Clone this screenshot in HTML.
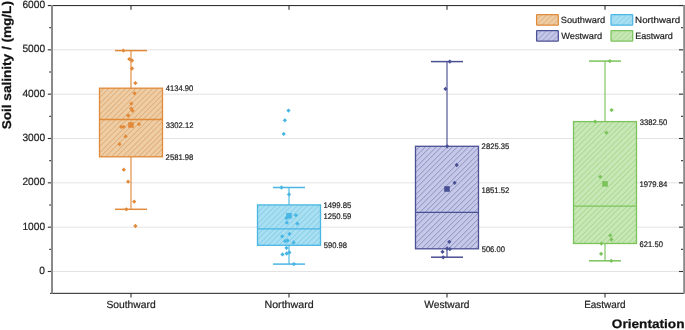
<!DOCTYPE html><html><head><meta charset="utf-8"><style>html,body{margin:0;padding:0;background:#fff;width:685px;height:330px;overflow:hidden}svg{display:block;will-change:transform}text{font-family:"Liberation Sans",sans-serif;text-rendering:geometricPrecision}</style></head><body>
<svg width="685" height="330" viewBox="0 0 685 330">
<defs>
<pattern id="lS" patternUnits="userSpaceOnUse" width="5.43" height="5.43" x="536.6" y="14.7"><rect width="5.43" height="5.43" fill="#EDCDA6"/><path d="M0.47,-1 L-6.96,6.43 M5.90,-1 L-1.53,6.43 M11.33,-1 L3.90,6.43 M16.76,-1 L9.33,6.43 " stroke="#E0A466" stroke-width="0.85"/></pattern>
<pattern id="lN" patternUnits="userSpaceOnUse" width="5.43" height="5.43" x="611.0" y="14.7"><rect width="5.43" height="5.43" fill="#A9DFF1"/><path d="M0.47,-1 L-6.96,6.43 M5.90,-1 L-1.53,6.43 M11.33,-1 L3.90,6.43 M16.76,-1 L9.33,6.43 " stroke="#7ACBEA" stroke-width="0.85"/></pattern>
<pattern id="lW" patternUnits="userSpaceOnUse" width="5.43" height="5.43" x="536.6" y="30.5"><rect width="5.43" height="5.43" fill="#C6C8E9"/><path d="M0.47,-1 L-6.96,6.43 M5.90,-1 L-1.53,6.43 M11.33,-1 L3.90,6.43 M16.76,-1 L9.33,6.43 " stroke="#898DBB" stroke-width="0.85"/></pattern>
<pattern id="lE" patternUnits="userSpaceOnUse" width="5.43" height="5.43" x="611.0" y="30.5"><rect width="5.43" height="5.43" fill="#C7E7B6"/><path d="M0.47,-1 L-6.96,6.43 M5.90,-1 L-1.53,6.43 M11.33,-1 L3.90,6.43 M16.76,-1 L9.33,6.43 " stroke="#9FD586" stroke-width="0.85"/></pattern>
</defs>
<rect width="685" height="330" fill="#fff"/>
<line x1="53" x2="683" y1="271.50" y2="271.50" stroke="#E3E3E3" stroke-width="1"/>
<line x1="53" x2="683" y1="227.17" y2="227.17" stroke="#E3E3E3" stroke-width="1"/>
<line x1="53" x2="683" y1="182.83" y2="182.83" stroke="#E3E3E3" stroke-width="1"/>
<line x1="53" x2="683" y1="138.50" y2="138.50" stroke="#E3E3E3" stroke-width="1"/>
<line x1="53" x2="683" y1="94.17" y2="94.17" stroke="#E3E3E3" stroke-width="1"/>
<line x1="53" x2="683" y1="49.83" y2="49.83" stroke="#E3E3E3" stroke-width="1"/>
<line x1="131" x2="131" y1="50.6" y2="88.2" stroke="#E08A3A" stroke-width="1.3" opacity="0.88"/>
<line x1="131" x2="131" y1="156.8" y2="209.3" stroke="#E08A3A" stroke-width="1.3" opacity="0.88"/>
<line x1="115.0" x2="147.0" y1="50.6" y2="50.6" stroke="#E08A3A" stroke-width="1.5"/>
<line x1="115.0" x2="147.0" y1="209.3" y2="209.3" stroke="#E08A3A" stroke-width="1.5"/>
<clipPath id="cS"><rect x="99.5" y="88.2" width="63.0" height="68.60"/></clipPath><rect x="99.5" y="88.2" width="63.0" height="68.60" fill="#EDCDA6"/><path clip-path="url(#cS)" d="M99.10,87.20L28.50,157.80M105.10,87.20L34.50,157.80M110.10,87.20L39.50,157.80M116.10,87.20L45.50,157.80M121.10,87.20L50.50,157.80M127.10,87.20L56.50,157.80M132.10,87.20L61.50,157.80M137.10,87.20L66.50,157.80M143.10,87.20L72.50,157.80M148.10,87.20L77.50,157.80M154.10,87.20L83.50,157.80M159.10,87.20L88.50,157.80M165.10,87.20L94.50,157.80M170.10,87.20L99.50,157.80M175.10,87.20L104.50,157.80M181.10,87.20L110.50,157.80M186.10,87.20L115.50,157.80M192.10,87.20L121.50,157.80M197.10,87.20L126.50,157.80M203.10,87.20L132.50,157.80M208.10,87.20L137.50,157.80M213.10,87.20L142.50,157.80M219.10,87.20L148.50,157.80M224.10,87.20L153.50,157.80M230.10,87.20L159.50,157.80" stroke="#E0A466" stroke-width="0.95" fill="none"/>
<rect x="99.5" y="88.2" width="63.0" height="68.60" fill="none" stroke="#E08A3A" stroke-width="1.3"/>
<line x1="99.5" x2="162.5" y1="119.5" y2="119.5" stroke="#E08A3A" stroke-width="1.3"/>
<path d="M123.4,48.45 L125.55,50.6 L123.4,52.75 L121.25,50.6Z" fill="#E08A3A"/>
<path d="M129.3,56.95 L131.45,59.1 L129.3,61.25 L127.15,59.1Z" fill="#E08A3A"/>
<path d="M132.0,58.35 L134.15,60.5 L132.0,62.65 L129.85,60.5Z" fill="#E08A3A"/>
<path d="M132.0,66.35 L134.15,68.5 L132.0,70.65 L129.85,68.5Z" fill="#E08A3A"/>
<path d="M135.4,80.95 L137.55,83.1 L135.4,85.25 L133.25,83.1Z" fill="#E08A3A"/>
<path d="M134.6,91.15 L136.75,93.3 L134.6,95.45 L132.45,93.3Z" fill="#E08A3A"/>
<path d="M131.3,101.55 L133.45,103.7 L131.3,105.85 L129.15,103.7Z" fill="#E08A3A"/>
<path d="M131.2,106.45 L133.35,108.6 L131.2,110.75 L129.05,108.6Z" fill="#E08A3A"/>
<path d="M132.5,108.55 L134.65,110.7 L132.5,112.85 L130.35,110.7Z" fill="#E08A3A"/>
<path d="M128.2,113.35 L130.35,115.5 L128.2,117.65 L126.05,115.5Z" fill="#E08A3A"/>
<path d="M121.2,124.75 L123.35,126.9 L121.2,129.05 L119.05,126.9Z" fill="#E08A3A"/>
<path d="M123.7,124.75 L125.85,126.9 L123.7,129.05 L121.55,126.9Z" fill="#E08A3A"/>
<path d="M138.9,122.05 L141.05,124.2 L138.9,126.35 L136.75,124.2Z" fill="#E08A3A"/>
<path d="M125.6,134.25 L127.75,136.4 L125.6,138.55 L123.45,136.4Z" fill="#E08A3A"/>
<path d="M119.5,142.05 L121.65,144.2 L119.5,146.35 L117.35,144.2Z" fill="#E08A3A"/>
<path d="M123.8,167.55 L125.95,169.7 L123.8,171.85 L121.65,169.7Z" fill="#E08A3A"/>
<path d="M128.1,179.55 L130.25,181.7 L128.1,183.85 L125.95,181.7Z" fill="#E08A3A"/>
<path d="M134.2,199.45 L136.35,201.6 L134.2,203.75 L132.05,201.6Z" fill="#E08A3A"/>
<path d="M126.4,207.15 L128.55,209.3 L126.4,211.45 L124.25,209.3Z" fill="#E08A3A"/>
<path d="M135.4,223.85 L137.55,226.0 L135.4,228.15 L133.25,226.0Z" fill="#E08A3A"/>
<rect x="128.20" y="122.20" width="5.6" height="5.6" fill="#E08A3A"/>
<text x="165.85" y="90.75" font-size="8.1" fill="#222" stroke="#222" stroke-width="0.2" textLength="27.49" lengthAdjust="spacingAndGlyphs">4134.90</text>
<text x="165.69" y="127.95" font-size="8.1" fill="#222" stroke="#222" stroke-width="0.2" textLength="27.73" lengthAdjust="spacingAndGlyphs">3302.12</text>
<text x="165.62" y="160.35" font-size="8.1" fill="#222" stroke="#222" stroke-width="0.2" textLength="27.73" lengthAdjust="spacingAndGlyphs">2581.98</text>
<line x1="289" x2="289" y1="187.5" y2="204.9" stroke="#4AB6E4" stroke-width="1.3" opacity="0.88"/>
<line x1="289" x2="289" y1="245.3" y2="264.1" stroke="#4AB6E4" stroke-width="1.3" opacity="0.88"/>
<line x1="273.0" x2="305.0" y1="187.5" y2="187.5" stroke="#4AB6E4" stroke-width="1.5"/>
<line x1="273.0" x2="305.0" y1="264.1" y2="264.1" stroke="#4AB6E4" stroke-width="1.5"/>
<clipPath id="cN"><rect x="257.5" y="204.9" width="63.0" height="40.40"/></clipPath><rect x="257.5" y="204.9" width="63.0" height="40.40" fill="#A9DFF1"/><path clip-path="url(#cN)" d="M255.40,203.90L213.00,246.30M261.40,203.90L219.00,246.30M266.40,203.90L224.00,246.30M271.40,203.90L229.00,246.30M277.40,203.90L235.00,246.30M282.40,203.90L240.00,246.30M288.40,203.90L246.00,246.30M293.40,203.90L251.00,246.30M299.40,203.90L257.00,246.30M304.40,203.90L262.00,246.30M309.40,203.90L267.00,246.30M315.40,203.90L273.00,246.30M320.40,203.90L278.00,246.30M326.40,203.90L284.00,246.30M331.40,203.90L289.00,246.30M337.40,203.90L295.00,246.30M342.40,203.90L300.00,246.30M347.40,203.90L305.00,246.30M353.40,203.90L311.00,246.30M358.40,203.90L316.00,246.30" stroke="#7ACBEA" stroke-width="0.95" fill="none"/>
<rect x="257.5" y="204.9" width="63.0" height="40.40" fill="none" stroke="#4AB6E4" stroke-width="1.3"/>
<line x1="257.5" x2="320.5" y1="228.8" y2="228.8" stroke="#4AB6E4" stroke-width="1.3"/>
<path d="M288.5,108.45 L290.65,110.6 L288.5,112.75 L286.35,110.6Z" fill="#4AB6E4"/>
<path d="M284.9,118.15 L287.05,120.3 L284.9,122.45 L282.75,120.3Z" fill="#4AB6E4"/>
<path d="M283.7,131.75 L285.85,133.9 L283.7,136.05 L281.55,133.9Z" fill="#4AB6E4"/>
<path d="M281.5,185.35 L283.65,187.5 L281.5,189.65 L279.35,187.5Z" fill="#4AB6E4"/>
<path d="M289.0,192.25 L291.15,194.4 L289.0,196.55 L286.85,194.4Z" fill="#4AB6E4"/>
<path d="M286.4,215.85 L288.55,218.0 L286.4,220.15 L284.25,218.0Z" fill="#4AB6E4"/>
<path d="M295.9,213.05 L298.05,215.2 L295.9,217.35 L293.75,215.2Z" fill="#4AB6E4"/>
<path d="M286.8,220.55 L288.95,222.7 L286.8,224.85 L284.65,222.7Z" fill="#4AB6E4"/>
<path d="M297.3,221.45 L299.45,223.6 L297.3,225.75 L295.15,223.6Z" fill="#4AB6E4"/>
<path d="M289.5,231.75 L291.65,233.9 L289.5,236.05 L287.35,233.9Z" fill="#4AB6E4"/>
<path d="M282.2,234.15 L284.35,236.3 L282.2,238.45 L280.05,236.3Z" fill="#4AB6E4"/>
<path d="M285.1,239.05 L287.25,241.2 L285.1,243.35 L282.95,241.2Z" fill="#4AB6E4"/>
<path d="M287.5,238.35 L289.65,240.5 L287.5,242.65 L285.35,240.5Z" fill="#4AB6E4"/>
<path d="M293.6,240.35 L295.75,242.5 L293.6,244.65 L291.45,242.5Z" fill="#4AB6E4"/>
<path d="M286.5,245.75 L288.65,247.9 L286.5,250.05 L284.35,247.9Z" fill="#4AB6E4"/>
<path d="M282.5,252.25 L284.65,254.4 L282.5,256.55 L280.35,254.4Z" fill="#4AB6E4"/>
<path d="M286.7,251.35 L288.85,253.5 L286.7,255.65 L284.55,253.5Z" fill="#4AB6E4"/>
<path d="M289.4,250.35 L291.55,252.5 L289.4,254.65 L287.25,252.5Z" fill="#4AB6E4"/>
<path d="M293.9,261.95 L296.05,264.1 L293.9,266.25 L291.75,264.1Z" fill="#4AB6E4"/>
<rect x="286.20" y="213.00" width="5.6" height="5.6" fill="#4AB6E4"/>
<text x="323.38" y="208.05" font-size="8.1" fill="#222" stroke="#222" stroke-width="0.2" textLength="27.97" lengthAdjust="spacingAndGlyphs">1499.85</text>
<text x="323.38" y="219.05" font-size="8.1" fill="#222" stroke="#222" stroke-width="0.2" textLength="27.97" lengthAdjust="spacingAndGlyphs">1250.59</text>
<text x="323.70" y="248.45" font-size="8.1" fill="#222" stroke="#222" stroke-width="0.2" textLength="23.27" lengthAdjust="spacingAndGlyphs">590.98</text>
<line x1="447" x2="447" y1="61.6" y2="146.3" stroke="#4A5094" stroke-width="1.3" opacity="0.88"/>
<line x1="447" x2="447" y1="248.8" y2="257.2" stroke="#4A5094" stroke-width="1.3" opacity="0.88"/>
<line x1="431.0" x2="463.0" y1="61.6" y2="61.6" stroke="#4A5094" stroke-width="1.5"/>
<line x1="431.0" x2="463.0" y1="257.2" y2="257.2" stroke="#4A5094" stroke-width="1.5"/>
<clipPath id="cW"><rect x="415.5" y="146.3" width="63.0" height="102.50"/></clipPath><rect x="415.5" y="146.3" width="63.0" height="102.50" fill="#C6C8E9"/><path clip-path="url(#cW)" d="M416.00,145.30L311.50,249.80M421.00,145.30L316.50,249.80M427.00,145.30L322.50,249.80M432.00,145.30L327.50,249.80M438.00,145.30L333.50,249.80M443.00,145.30L338.50,249.80M449.00,145.30L344.50,249.80M454.00,145.30L349.50,249.80M459.00,145.30L354.50,249.80M465.00,145.30L360.50,249.80M470.00,145.30L365.50,249.80M476.00,145.30L371.50,249.80M481.00,145.30L376.50,249.80M487.00,145.30L382.50,249.80M492.00,145.30L387.50,249.80M497.00,145.30L392.50,249.80M503.00,145.30L398.50,249.80M508.00,145.30L403.50,249.80M514.00,145.30L409.50,249.80M519.00,145.30L414.50,249.80M525.00,145.30L420.50,249.80M530.00,145.30L425.50,249.80M535.00,145.30L430.50,249.80M541.00,145.30L436.50,249.80M546.00,145.30L441.50,249.80M552.00,145.30L447.50,249.80M557.00,145.30L452.50,249.80M563.00,145.30L458.50,249.80M568.00,145.30L463.50,249.80M573.00,145.30L468.50,249.80M579.00,145.30L474.50,249.80M584.00,145.30L479.50,249.80" stroke="#898DBB" stroke-width="0.95" fill="none"/>
<rect x="415.5" y="146.3" width="63.0" height="102.50" fill="none" stroke="#4A5094" stroke-width="1.3"/>
<line x1="415.5" x2="478.5" y1="212.3" y2="212.3" stroke="#4A5094" stroke-width="1.3"/>
<path d="M449.8,59.45 L451.95,61.6 L449.8,63.75 L447.65,61.6Z" fill="#4A5094"/>
<path d="M445.5,86.75 L447.65,88.9 L445.5,91.05 L443.35,88.9Z" fill="#4A5094"/>
<path d="M447.2,144.15 L449.35,146.3 L447.2,148.45 L445.05,146.3Z" fill="#4A5094"/>
<path d="M456.7,162.85 L458.85,165.0 L456.7,167.15 L454.55,165.0Z" fill="#4A5094"/>
<path d="M454.6,180.65 L456.75,182.8 L454.6,184.95 L452.45,182.8Z" fill="#4A5094"/>
<path d="M449.3,239.65 L451.45,241.8 L449.3,243.95 L447.15,241.8Z" fill="#4A5094"/>
<path d="M447.1,246.35 L449.25,248.5 L447.1,250.65 L444.95,248.5Z" fill="#4A5094"/>
<path d="M449.8,246.95 L451.95,249.1 L449.8,251.25 L447.65,249.1Z" fill="#4A5094"/>
<path d="M442.5,249.65 L444.65,251.8 L442.5,253.95 L440.35,251.8Z" fill="#4A5094"/>
<path d="M443.2,255.15 L445.35,257.3 L443.2,259.45 L441.05,257.3Z" fill="#4A5094"/>
<rect x="444.20" y="186.20" width="5.6" height="5.6" fill="#4A5094"/>
<text x="481.62" y="149.35" font-size="8.1" fill="#222" stroke="#222" stroke-width="0.2" textLength="27.73" lengthAdjust="spacingAndGlyphs">2825.35</text>
<text x="481.38" y="192.55" font-size="8.1" fill="#222" stroke="#222" stroke-width="0.2" textLength="28.05" lengthAdjust="spacingAndGlyphs">1851.52</text>
<text x="481.70" y="251.85" font-size="8.1" fill="#222" stroke="#222" stroke-width="0.2" textLength="23.20" lengthAdjust="spacingAndGlyphs">506.00</text>
<line x1="605" x2="605" y1="61.1" y2="121.6" stroke="#7CC35B" stroke-width="1.3" opacity="0.88"/>
<line x1="605" x2="605" y1="243.5" y2="260.8" stroke="#7CC35B" stroke-width="1.3" opacity="0.88"/>
<line x1="589.0" x2="621.0" y1="61.1" y2="61.1" stroke="#7CC35B" stroke-width="1.5"/>
<line x1="589.0" x2="621.0" y1="260.8" y2="260.8" stroke="#7CC35B" stroke-width="1.5"/>
<clipPath id="cE"><rect x="573.5" y="121.6" width="63.0" height="121.90"/></clipPath><rect x="573.5" y="121.6" width="63.0" height="121.90" fill="#C7E7B6"/><path clip-path="url(#cE)" d="M571.70,120.60L447.80,244.50M576.70,120.60L452.80,244.50M582.70,120.60L458.80,244.50M587.70,120.60L463.80,244.50M592.70,120.60L468.80,244.50M598.70,120.60L474.80,244.50M603.70,120.60L479.80,244.50M609.70,120.60L485.80,244.50M614.70,120.60L490.80,244.50M620.70,120.60L496.80,244.50M625.70,120.60L501.80,244.50M630.70,120.60L506.80,244.50M636.70,120.60L512.80,244.50M641.70,120.60L517.80,244.50M647.70,120.60L523.80,244.50M652.70,120.60L528.80,244.50M658.70,120.60L534.80,244.50M663.70,120.60L539.80,244.50M668.70,120.60L544.80,244.50M674.70,120.60L550.80,244.50M679.70,120.60L555.80,244.50M685.70,120.60L561.80,244.50M690.70,120.60L566.80,244.50M696.70,120.60L572.80,244.50M701.70,120.60L577.80,244.50M706.70,120.60L582.80,244.50M712.70,120.60L588.80,244.50M717.70,120.60L593.80,244.50M723.70,120.60L599.80,244.50M728.70,120.60L604.80,244.50M734.70,120.60L610.80,244.50M739.70,120.60L615.80,244.50M744.70,120.60L620.80,244.50M750.70,120.60L626.80,244.50M755.70,120.60L631.80,244.50" stroke="#9FD586" stroke-width="0.95" fill="none"/>
<rect x="573.5" y="121.6" width="63.0" height="121.90" fill="none" stroke="#7CC35B" stroke-width="1.3"/>
<line x1="573.5" x2="636.5" y1="206.2" y2="206.2" stroke="#7CC35B" stroke-width="1.3"/>
<path d="M609.8,58.95 L611.95,61.1 L609.8,63.25 L607.65,61.1Z" fill="#7CC35B"/>
<path d="M611.6,107.95 L613.75,110.1 L611.6,112.25 L609.45,110.1Z" fill="#7CC35B"/>
<path d="M595.1,119.45 L597.25,121.6 L595.1,123.75 L592.95,121.6Z" fill="#7CC35B"/>
<path d="M606.4,130.55 L608.55,132.7 L606.4,134.85 L604.25,132.7Z" fill="#7CC35B"/>
<path d="M600.2,174.65 L602.35,176.8 L600.2,178.95 L598.05,176.8Z" fill="#7CC35B"/>
<path d="M610.2,233.15 L612.35,235.3 L610.2,237.45 L608.05,235.3Z" fill="#7CC35B"/>
<path d="M611.4,237.35 L613.55,239.5 L611.4,241.65 L609.25,239.5Z" fill="#7CC35B"/>
<path d="M601.4,241.45 L603.55,243.6 L601.4,245.75 L599.25,243.6Z" fill="#7CC35B"/>
<path d="M601.1,251.65 L603.25,253.8 L601.1,255.95 L598.95,253.8Z" fill="#7CC35B"/>
<path d="M611.3,258.65 L613.45,260.8 L611.3,262.95 L609.15,260.8Z" fill="#7CC35B"/>
<rect x="602.20" y="181.10" width="5.6" height="5.6" fill="#7CC35B"/>
<text x="639.69" y="124.85" font-size="8.1" fill="#222" stroke="#222" stroke-width="0.2" textLength="27.65" lengthAdjust="spacingAndGlyphs">3382.50</text>
<text x="639.38" y="186.65" font-size="8.1" fill="#222" stroke="#222" stroke-width="0.2" textLength="27.89" lengthAdjust="spacingAndGlyphs">1979.84</text>
<text x="639.62" y="246.85" font-size="8.1" fill="#222" stroke="#222" stroke-width="0.2" textLength="23.27" lengthAdjust="spacingAndGlyphs">621.50</text>
<rect x="48" y="5" width="636" height="1.1" fill="#333"/>
<rect x="50" y="292.8" width="634" height="1.1" fill="#333"/>
<rect x="51" y="5" width="2" height="288.5" fill="#8a8a8a"/>
<rect x="683.2" y="5" width="1.8" height="288.5" fill="#8a8a8a"/>
<rect x="47.8" y="270.95" width="3.2" height="1.1" fill="#333"/>
<rect x="679" y="270.95" width="4" height="1.1" fill="#333"/>
<text x="39.30" y="274.10" font-size="10.5" fill="#222" stroke="#222" stroke-width="0.2" textLength="5.67" lengthAdjust="spacingAndGlyphs">0</text>
<rect x="49.2" y="248.78" width="1.8" height="1.1" fill="#333"/>
<rect x="681" y="248.78" width="2" height="1.1" fill="#333"/>
<rect x="47.8" y="226.62" width="3.2" height="1.1" fill="#333"/>
<rect x="679" y="226.62" width="4" height="1.1" fill="#333"/>
<text x="22.40" y="229.77" font-size="10.5" fill="#222" stroke="#222" stroke-width="0.2" textLength="22.66" lengthAdjust="spacingAndGlyphs">1000</text>
<rect x="49.2" y="204.45" width="1.8" height="1.1" fill="#333"/>
<rect x="681" y="204.45" width="2" height="1.1" fill="#333"/>
<rect x="47.8" y="182.28" width="3.2" height="1.1" fill="#333"/>
<rect x="679" y="182.28" width="4" height="1.1" fill="#333"/>
<text x="22.40" y="185.43" font-size="10.5" fill="#222" stroke="#222" stroke-width="0.2" textLength="22.66" lengthAdjust="spacingAndGlyphs">2000</text>
<rect x="49.2" y="160.12" width="1.8" height="1.1" fill="#333"/>
<rect x="681" y="160.12" width="2" height="1.1" fill="#333"/>
<rect x="47.8" y="137.95" width="3.2" height="1.1" fill="#333"/>
<rect x="679" y="137.95" width="4" height="1.1" fill="#333"/>
<text x="22.40" y="141.10" font-size="10.5" fill="#222" stroke="#222" stroke-width="0.2" textLength="22.66" lengthAdjust="spacingAndGlyphs">3000</text>
<rect x="49.2" y="115.78" width="1.8" height="1.1" fill="#333"/>
<rect x="681" y="115.78" width="2" height="1.1" fill="#333"/>
<rect x="47.8" y="93.62" width="3.2" height="1.1" fill="#333"/>
<rect x="679" y="93.62" width="4" height="1.1" fill="#333"/>
<text x="22.40" y="96.77" font-size="10.5" fill="#222" stroke="#222" stroke-width="0.2" textLength="22.66" lengthAdjust="spacingAndGlyphs">4000</text>
<rect x="49.2" y="71.45" width="1.8" height="1.1" fill="#333"/>
<rect x="681" y="71.45" width="2" height="1.1" fill="#333"/>
<rect x="47.8" y="49.28" width="3.2" height="1.1" fill="#333"/>
<rect x="679" y="49.28" width="4" height="1.1" fill="#333"/>
<text x="22.40" y="52.43" font-size="10.5" fill="#222" stroke="#222" stroke-width="0.2" textLength="22.66" lengthAdjust="spacingAndGlyphs">5000</text>
<rect x="49.2" y="27.12" width="1.8" height="1.1" fill="#333"/>
<rect x="681" y="27.12" width="2" height="1.1" fill="#333"/>
<rect x="47.8" y="4.95" width="3.2" height="1.1" fill="#333"/>
<rect x="679" y="4.95" width="4" height="1.1" fill="#333"/>
<text x="22.40" y="8.10" font-size="10.5" fill="#222" stroke="#222" stroke-width="0.2" textLength="22.66" lengthAdjust="spacingAndGlyphs">6000</text>
<rect x="130.45" y="293" width="1.1" height="4.5" fill="#333"/>
<rect x="130.45" y="5.5" width="1.1" height="4.3" fill="#333"/>
<rect x="288.45" y="293" width="1.1" height="4.5" fill="#333"/>
<rect x="288.45" y="5.5" width="1.1" height="4.3" fill="#333"/>
<rect x="446.45" y="293" width="1.1" height="4.5" fill="#333"/>
<rect x="446.45" y="5.5" width="1.1" height="4.3" fill="#333"/>
<rect x="604.45" y="293" width="1.1" height="4.5" fill="#333"/>
<rect x="604.45" y="5.5" width="1.1" height="4.3" fill="#333"/>
<text x="106.39" y="308.00" font-size="10.4" fill="#222" stroke="#222" stroke-width="0.2" textLength="49.24" lengthAdjust="spacingAndGlyphs">Southward</text>
<text x="264.45" y="308.00" font-size="10.4" fill="#222" stroke="#222" stroke-width="0.2" textLength="49.22" lengthAdjust="spacingAndGlyphs">Northward</text>
<text x="424.30" y="308.00" font-size="10.4" fill="#222" stroke="#222" stroke-width="0.2" textLength="45.19" lengthAdjust="spacingAndGlyphs">Westward</text>
<text x="584.20" y="308.00" font-size="10.4" fill="#222" stroke="#222" stroke-width="0.2" textLength="41.48" lengthAdjust="spacingAndGlyphs">Eastward</text>
<text x="611.86" y="328.00" font-size="12.3" font-weight="bold" fill="#111" stroke="#111" stroke-width="0.25" textLength="72.61" lengthAdjust="spacingAndGlyphs">Orientation</text>
<text transform="translate(11,128.9) rotate(-90)" x="-0.41" y="0" font-size="12.6" font-weight="bold" fill="#111" stroke="#111" stroke-width="0.25" textLength="128.22" lengthAdjust="spacingAndGlyphs">Soil salinity / (mg/L)</text>
<rect x="536.6" y="14.7" width="21.7" height="10.5" rx="0.6" fill="url(#lS)" stroke="#E08A3A" stroke-width="1.25"/>
<text x="560.74" y="22.90" font-size="9.0" fill="#222" stroke="#222" stroke-width="0.2" textLength="44.43" lengthAdjust="spacingAndGlyphs">Southward</text>
<rect x="611.0" y="14.7" width="21.7" height="10.5" rx="0.6" fill="url(#lN)" stroke="#4AB6E4" stroke-width="1.25"/>
<text x="635.12" y="22.90" font-size="9.0" fill="#222" stroke="#222" stroke-width="0.2" textLength="44.99" lengthAdjust="spacingAndGlyphs">Northward</text>
<rect x="536.6" y="30.5" width="21.7" height="10.5" rx="0.6" fill="url(#lW)" stroke="#4A5094" stroke-width="1.25"/>
<text x="561.21" y="38.70" font-size="9.0" fill="#222" stroke="#222" stroke-width="0.2" textLength="40.91" lengthAdjust="spacingAndGlyphs">Westward</text>
<rect x="611.0" y="30.5" width="21.7" height="10.5" rx="0.6" fill="url(#lE)" stroke="#7CC35B" stroke-width="1.25"/>
<text x="635.18" y="38.70" font-size="9.0" fill="#222" stroke="#222" stroke-width="0.2" textLength="37.75" lengthAdjust="spacingAndGlyphs">Eastward</text>
</svg></body></html>
